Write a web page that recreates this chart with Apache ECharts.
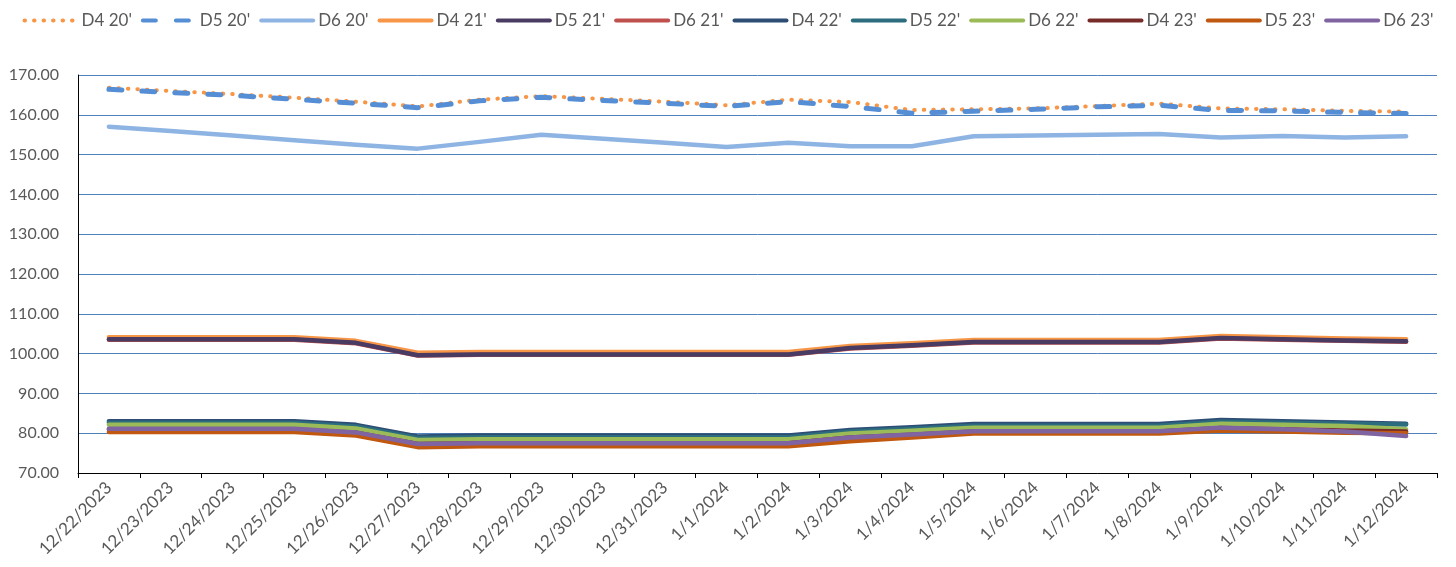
<!DOCTYPE html>
<html>
<head>
<meta charset="utf-8">
<script src="https://cdn.jsdelivr.net/npm/echarts@6/dist/echarts.min.js"></script>
<style>
  html, body { margin: 0; padding: 0; background: #ffffff; }
  #chart { width: 1456px; height: 567px; }
</style>
</head>
<body>
<div id="chart"></div>
<script>
const categories = ['12/22/2023','12/23/2023','12/24/2023','12/25/2023','12/26/2023','12/27/2023','12/28/2023','12/29/2023','12/30/2023','12/31/2023','1/1/2024','1/2/2024','1/3/2024','1/4/2024','1/5/2024','1/6/2024','1/7/2024','1/8/2024','1/9/2024','1/10/2024','1/11/2024','1/12/2024'];

const seriesNames = ["D4 20'", "D5 20'", "D6 20'", "D4 21'", "D5 21'", "D6 21'", "D4 22'", "D5 22'", "D6 22'", "D4 23'", "D5 23'", "D6 23'"];

const d4_20 = [166.8,166.0,165.2,164.3,163.3,162.1,163.8,164.7,164.0,163.3,162.4,163.8,163.2,161.2,161.4,161.6,162.2,162.8,161.6,161.4,161.0,160.8];
const d5_20 = [166.4,165.6,164.9,163.9,162.9,161.8,163.5,164.4,163.6,162.9,162.1,163.3,162.1,160.4,160.9,161.4,162.0,162.4,161.1,161.0,160.6,160.3];
const d6_20 = [157.0,155.9,154.8,153.6,152.5,151.5,153.2,155.0,154.0,153.0,151.9,153.0,152.1,152.1,154.6,154.8,155.0,155.2,154.3,154.7,154.3,154.6];
const d4_21 = [104.1,104.1,104.1,104.1,103.2,100.2,100.4,100.4,100.4,100.4,100.4,100.4,101.9,102.6,103.4,103.4,103.4,103.4,104.4,104.1,103.8,103.6];
const d5_21 = [103.6,103.6,103.6,103.6,102.7,99.6,99.8,99.8,99.8,99.8,99.8,99.8,101.4,102.1,102.9,102.9,102.9,102.9,103.9,103.6,103.3,103.1];
const d6_21 = [103.5,103.5,103.5,103.5,102.6,99.5,99.7,99.7,99.7,99.7,99.7,99.7,101.3,102.0,102.8,102.8,102.8,102.8,103.8,103.5,103.2,103.0];
const d4_22 = [83.0,83.0,83.0,83.0,82.1,79.2,79.4,79.4,79.4,79.4,79.4,79.4,80.8,81.5,82.3,82.3,82.3,82.3,83.3,83.0,82.7,82.4];
const d5_22 = [82.6,82.6,82.6,82.6,81.7,78.8,79.0,79.0,79.0,79.0,79.0,79.0,80.4,81.1,81.9,81.9,81.9,81.9,82.9,82.6,82.4,82.2];
const d6_22 = [82.1,82.1,82.1,82.1,81.2,78.3,78.5,78.5,78.5,78.5,78.5,78.5,79.9,80.6,81.4,81.4,81.4,81.4,82.4,82.1,81.8,81.0];
const d4_23 = [81.0,81.0,81.0,81.0,80.1,77.3,77.5,77.5,77.5,77.5,77.5,77.5,78.9,79.6,80.4,80.4,80.4,80.4,81.3,81.0,80.7,80.4];
const d5_23 = [80.3,80.3,80.3,80.3,79.4,76.5,76.7,76.7,76.7,76.7,76.7,76.7,78.0,78.9,79.9,79.9,79.9,79.9,80.7,80.4,80.1,80.0];
const d6_23 = [81.1,81.1,81.1,81.1,80.2,77.3,77.5,77.5,77.5,77.5,77.5,77.5,78.9,79.7,80.5,80.5,80.5,80.5,81.4,81.0,80.4,79.3];

const seriesValues = [d4_20, d5_20, d6_20, d4_21, d5_21, d6_21, d4_22, d5_22, d6_22, d4_23, d5_23, d6_23];

const yTicks = { min: 70, max: 170, interval: 10 };

const colors = ['#F79646','#558ED5','#8EB4E3','#F79646','#4A3B62','#C0504D','#2D4D75','#2B6D7F','#9BBB59','#772C2A','#C0590F','#8064A2'];
const widths = [4, 5, 4.5, 4.5, 4.5, 4.5, 4.5, 4.5, 4.5, 4.5, 4.5, 4.5];
const dashes = [[0.5, 9], [13, 20], 'solid', 'solid', 'solid', 'solid', 'solid', 'solid', 'solid', 'solid', 'solid', 'solid'];
// drawing order (D6 21' sits underneath D5 21')
const zOrder = [2, 3, 4, 5, 7, 6, 8, 9, 10, 11, 12, 13];

const FONT = 'Lato, "Liberation Sans", sans-serif';

const series = seriesNames.map((name, i) => ({
  name: name,
  type: 'line',
  data: seriesValues[i],
  symbol: 'none',
  showSymbol: false,
  smooth: false,
  animation: false,
  z: zOrder[i],
  itemStyle: { color: colors[i] },
  lineStyle: {
    color: colors[i],
    width: widths[i],
    type: dashes[i],
    cap: 'round',
    join: 'round'
  }
}));

const chart = echarts.init(document.getElementById('chart'), null, { renderer: 'canvas' });
chart.setOption({
  animation: false,
  backgroundColor: '#ffffff',
  color: colors,
  legend: {
    top: 7,
    left: 'center',
    itemWidth: 52,
    itemHeight: 14,
    itemGap: 9,
    itemStyle: { opacity: 0 },
    lineStyle: { width: 4 },
    textStyle: { fontFamily: FONT, fontSize: 17, color: '#595959' },
    data: seriesNames
  },
  grid: { left: 78, right: 19, top: 75, bottom: 94, containLabel: false },
  xAxis: {
    type: 'category',
    data: categories,
    boundaryGap: true,
    axisLine: { show: true, lineStyle: { color: '#000000', width: 1 } },
    axisTick: { show: true, alignWithLabel: false, length: 5, lineStyle: { color: '#000000' } },
    axisLabel: { rotate: 45, fontFamily: FONT, fontSize: 17, color: '#595959', margin: 12, interval: 0 },
    splitLine: { show: false }
  },
  yAxis: {
    type: 'value',
    min: yTicks.min,
    max: yTicks.max,
    interval: yTicks.interval,
    axisLine: { show: true, lineStyle: { color: '#000000', width: 1 } },
    axisTick: { show: false },
    axisLabel: { fontFamily: FONT, fontSize: 16, color: '#595959', margin: 19, formatter: v => v.toFixed(2) },
    splitLine: { show: true, lineStyle: { color: '#4F81BD', width: 1 } }
  },
  series: series
});
</script>
</body>
</html>
